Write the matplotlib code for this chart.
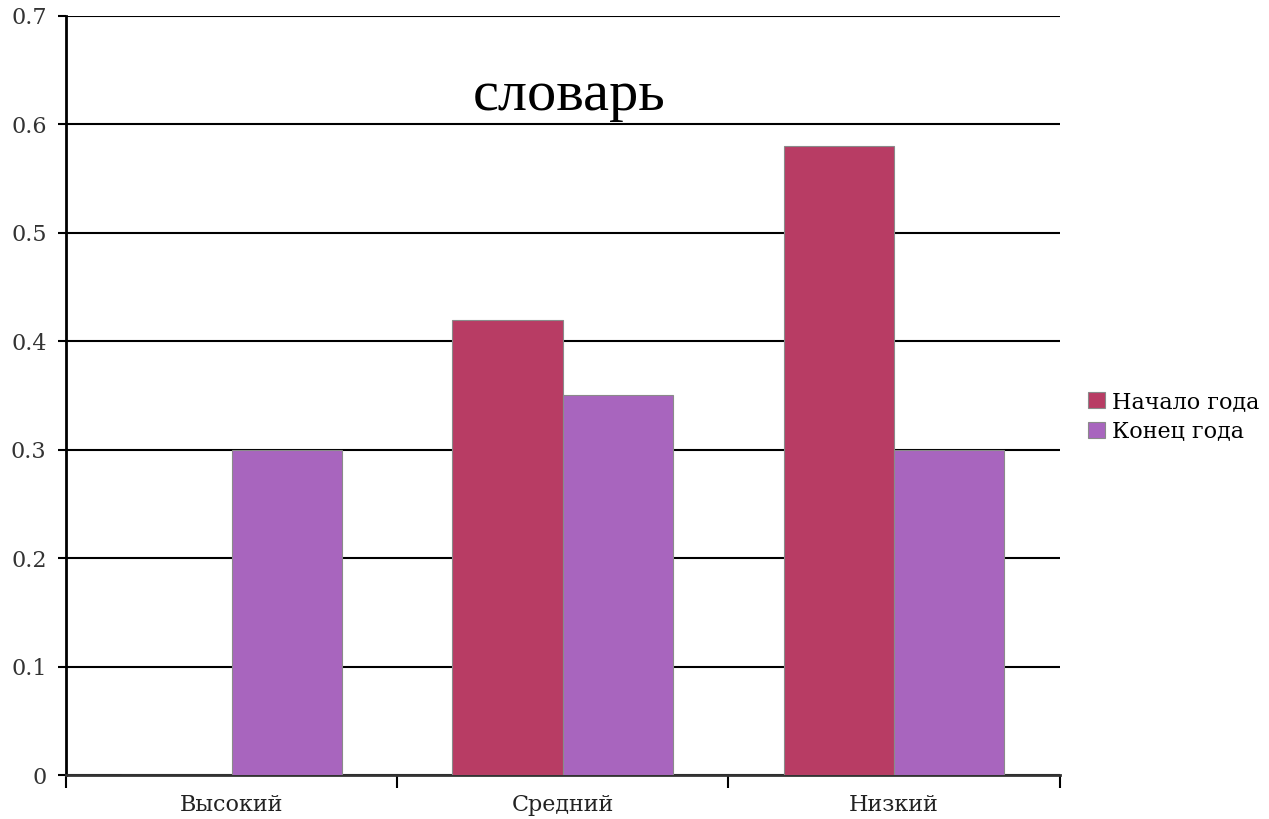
import numpy as np
import matplotlib.pyplot as plt

categories = ['Высокий', 'Средний', 'Низкий']
start_year = [0.0, 0.42, 0.58]
end_year = [0.30, 0.35, 0.30]
series_names = ['Начало года', 'Конец года']
y_ticks = [0, 0.1, 0.2, 0.3, 0.4, 0.5, 0.6, 0.7]

plt.rcParams['font.family'] = ['DejaVu Serif']

fig = plt.figure(figsize=(12.69, 8.19), dpi=100)
ax = fig.add_axes([0.052, 0.0537, 0.783, 0.9268])

x = np.arange(len(categories))
w = 1 / 3
ax.bar(x - w / 2, start_year, w, color='#b83c64', edgecolor='#8a8a8a',
       linewidth=0.8, label=series_names[0], zorder=3)
ax.bar(x + w / 2, end_year, w, color='#a865be', edgecolor='#8a8a8a',
       linewidth=0.8, label=series_names[1], zorder=3)

ax.set_xlim(-0.5, 2.5)
ax.set_ylim(0, 0.7)
ax.set_yticks(y_ticks)
ax.set_yticklabels(['0' if t == 0 else f'{t:.1f}' for t in y_ticks],
                   fontsize=16, color='#333333')
ax.set_xticks(x)
ax.set_xticklabels(categories, fontsize=16, color='#222222')
ax.tick_params(axis='x', length=0, pad=14)
ax.set_xticks([-0.5, 0.5, 1.5, 2.5], minor=True)
ax.tick_params(axis='x', which='minor', length=9, width=1.5, direction='out')
ax.tick_params(axis='y', length=6, width=1.5, pad=8)

ax.grid(axis='y', color='black', linewidth=1.5, zorder=0)
for s in ['top', 'right']:
    ax.spines[s].set_visible(False)
ax.spines['left'].set_linewidth(2)
ax.spines['bottom'].set_linewidth(2)
ax.spines['bottom'].set_color('#333333')

ax.text(0.506, 0.895, 'словарь', transform=ax.transAxes, ha='center',
        va='center', fontsize=42, color='black', family='Liberation Serif')

ax.legend(loc='center left', bbox_to_anchor=(1.02, 0.472), frameon=False,
          fontsize=16, handlelength=0.75, handleheight=0.75, handletextpad=0.3,
          labelspacing=0.35, borderaxespad=0)

fig.savefig('out.png', dpi=100)
